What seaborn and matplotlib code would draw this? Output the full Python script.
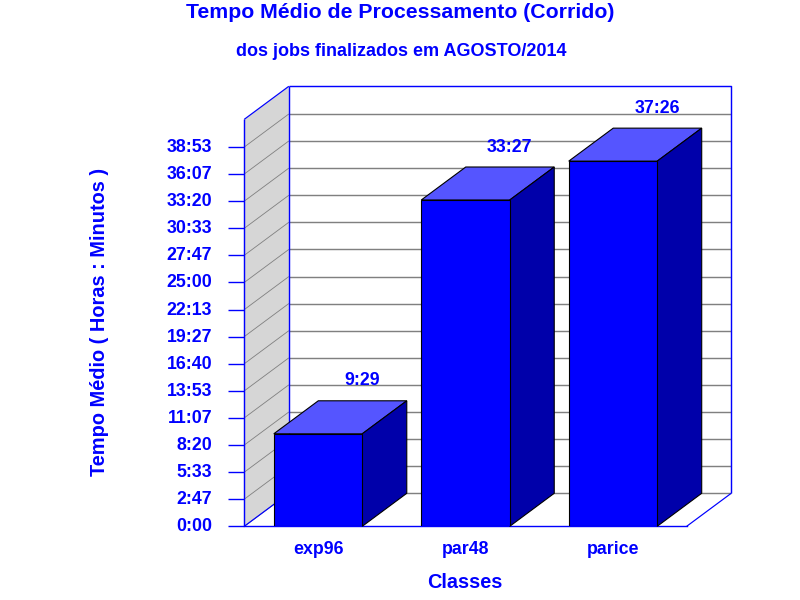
import matplotlib
matplotlib.use("Agg")
import matplotlib.pyplot as plt
from matplotlib.patches import Polygon
from matplotlib.transforms import ScaledTranslation
import pandas as pd
import seaborn as sns

classes = ["exp96", "par48", "parice"]
value_labels = ["9:29", "33:27", "37:26"]
tick_labels = ["0:00", "2:47", "5:33", "8:20", "11:07", "13:53", "16:40", "19:27",
               "22:13", "25:00", "27:47", "30:33", "33:20", "36:07", "38:53"]


def to_minutes(s):
    h, m = s.split(":")
    return int(h) * 60 + int(m)


values = [to_minutes(s) for s in value_labels]
ticks = [to_minutes(s) for s in tick_labels]

BLUE = "#0000FF"
GRAY = "#808080"
FONT = ["Liberation Sans", "DejaVu Sans"]

sns.set_style("white")
plt.rcParams["font.family"] = FONT
plt.rcParams["font.weight"] = "bold"

W, H = 800, 600
fig = plt.figure(figsize=(8, 6), dpi=100)
L, R, B, T = 244.3, 686.7, 526.3, 119.3
ax = fig.add_axes([L / W, 1 - B / H, (R - L) / W, (B - T) / H])
ax.patch.set_visible(False)

df = pd.DataFrame({"Classe": classes, "Tempo": values})
sns.barplot(data=df, x="Classe", y="Tempo", color=BLUE, saturation=1, width=0.6,
            edgecolor="black", linewidth=0.8, zorder=5, ax=ax)
ax.set_xlim(-0.5, 2.5)
px_per_min = 379.3 / 2333
ymax = (B - T) / px_per_min
ax.set_ylim(0, ymax)

# depth of the 3-D effect, in data units
dx = 44.5 / ((R - L) / 3)
dy = 33.0 / px_per_min
x0, x1 = -0.5, 2.5


def line(xs, ys, color=BLUE, lw=1.0, z=2):
    ax.plot(xs, ys, color=color, lw=lw * 0.72 * 1.2, zorder=z, clip_on=False,
            solid_capstyle="butt")


# left wall
ax.add_patch(Polygon([(x0, 0), (x0 + dx, dy), (x0 + dx, ymax + dy), (x0, ymax)],
                     closed=True, fc="#D6D6D6", ec="none", zorder=0, clip_on=False))
# grid on the walls
for t in ticks:
    line([x0, x0 + dx], [t, t + dy], GRAY, 0.7, 1)
    line([x0 + dx, x1 + dx], [t + dy, t + dy], GRAY, 1.2, 1)
# outlines
line([x0 + dx, x1 + dx, x1 + dx], [ymax + dy, ymax + dy, dy], BLUE, 1.2, 2)
line([x0 + dx, x0 + dx], [dy, ymax + dy], BLUE, 1.2, 2)
line([x0, x0 + dx], [ymax, ymax + dy], BLUE, 1, 2)
line([x0, x0], [0, ymax], BLUE, 1.2, 2)
line([x0, x0 + dx], [0, dy], BLUE, 1, 2)
line([x1, x1 + dx], [0, dy], BLUE, 1, 2)

# top and side faces of the bars, taken from the bars themselves
for bar, lab in zip(list(ax.patches), value_labels):
    if isinstance(bar, Polygon):
        continue
    a, w, h = bar.get_x(), bar.get_width(), bar.get_height()
    ax.add_patch(Polygon([(a, h), (a + dx, h + dy), (a + w + dx, h + dy), (a + w, h)],
                         closed=True, fc="#5555FF", ec="black", lw=0.8, zorder=4, clip_on=False))
    ax.add_patch(Polygon([(a + w, 0), (a + w + dx, dy), (a + w + dx, h + dy), (a + w, h)],
                         closed=True, fc="#0000AA", ec="black", lw=0.8, zorder=4, clip_on=False))
    ax.annotate(lab, (a + w / 2, h), xytext=(44 * 0.72, 53 * 0.72),
                textcoords="offset points", ha="center", va="center",
                color=BLUE, fontsize=12.8, fontweight="bold", zorder=6)

for s in ax.spines.values():
    s.set_visible(False)
ax.spines["bottom"].set_visible(True)
ax.spines["bottom"].set_color(BLUE)
ax.spines["bottom"].set_linewidth(1.0)
ax.spines["bottom"].set_zorder(3)
ax.spines["bottom"].set_bounds(x0, x1)

ax.set_yticks(ticks, tick_labels)
ax.tick_params(axis="y", left=True, length=16 * 0.72, width=1.0, color=BLUE, pad=16 * 0.72,
               labelcolor=BLUE, labelsize=12.8)
ax.tick_params(axis="x", bottom=False, pad=9.5 * 0.72, labelcolor=BLUE, labelsize=12.8)
ax.set_xlabel("")
ax.set_ylabel("")
up = ScaledTranslation(0, 1.5 / 100, fig.dpi_scale_trans)
for t in ax.get_yticklabels():
    t.set_fontweight("bold")
    t.set_transform(t.get_transform() + up)
for t in ax.get_xticklabels():
    t.set_fontweight("bold")

fig.text(400.5 / W, 1 - 12.5 / H, "Tempo Médio de Processamento (Corrido)", ha="center", va="center",
         color=BLUE, fontsize=15.3, fontweight="bold")
fig.text(401 / W, 1 - 52 / H, "dos jobs finalizados em AGOSTO/2014", ha="center", va="center",
         color=BLUE, fontsize=13, fontweight="bold")
fig.text(465 / W, 1 - 582 / H, "Classes", ha="center", va="center",
         color=BLUE, fontsize=14.3, fontweight="bold")
fig.text(99.5 / W, 1 - 322 / H, "Tempo Médio ( Horas : Minutos )", rotation=90, ha="center", va="center",
         color=BLUE, fontsize=14.4, fontweight="bold")

fig.savefig("out.png", dpi=100, facecolor="white")
